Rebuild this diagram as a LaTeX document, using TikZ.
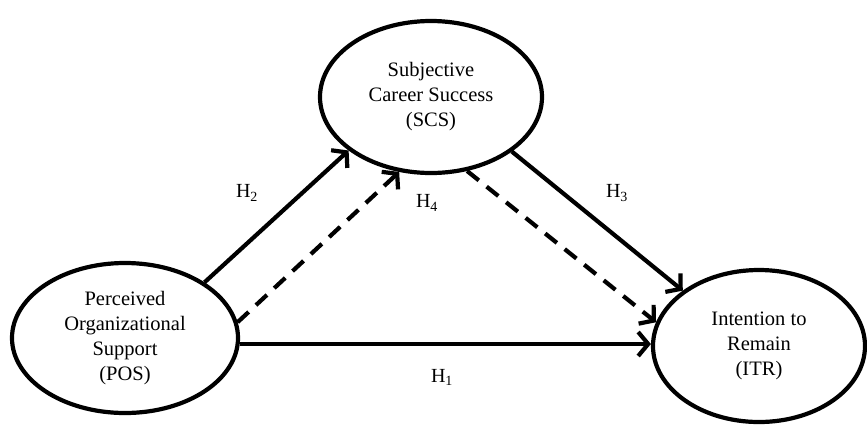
\documentclass[tikz,border=0pt]{standalone}
\usepackage{fontspec}
\setmainfont{Liberation Serif}
\usetikzlibrary{shapes.geometric,arrows.meta}
\tikzset{
  construct/.style={draw,line width=4.2pt,ellipse,inner sep=0pt,align=center,
    font=\fontsize{20.5}{25}\selectfont},
  arr/.style={line width=4.2pt,-{Straight Barb[length=10pt,width=24pt]}},
  dasharr/.style={arr,dash pattern=on 15pt off 10pt},
  hyp/.style={font=\fontsize{20}{24}\selectfont,inner sep=0pt}
}
\begin{document}
\begin{tikzpicture}[x=1pt,y=-1pt]
\useasboundingbox (0,0) rectangle (867,424);
\clip (0,0) rectangle (867,424);
\node[construct,minimum width=226pt,minimum height=150pt] (pos) at (125,338)
  {Perceived\\Organizational\\Support\\(POS)};
\node[construct,minimum width=222pt,minimum height=152pt] (scs) at (431,97)
  {Subjective\\Career Success\\(SCS)};
\node[construct,minimum width=212pt,minimum height=152pt] (itr) at (759,346)
  {Intention to\\Remain\\(ITR)};
\draw[arr] (pos.35) -- (scs.213);
\draw[dasharr] (pos.8) -- (scs.247);
\draw[arr] (pos.-3) -- (pos.-3 -| itr.west);
\draw[arr] (scs.-34) -- (itr.144);
\draw[dasharr] (scs.-64) -- (itr.167);
\node[hyp] (h2) at (247,193) {H\textsubscript{2}};
\node[hyp] (h4) at (427,203) {H\textsubscript{4}};
\node[hyp] (h3) at (617,193) {H\textsubscript{3}};
\node[hyp] (h1) at (442,377) {H\textsubscript{1}};
\end{tikzpicture}
\end{document}
